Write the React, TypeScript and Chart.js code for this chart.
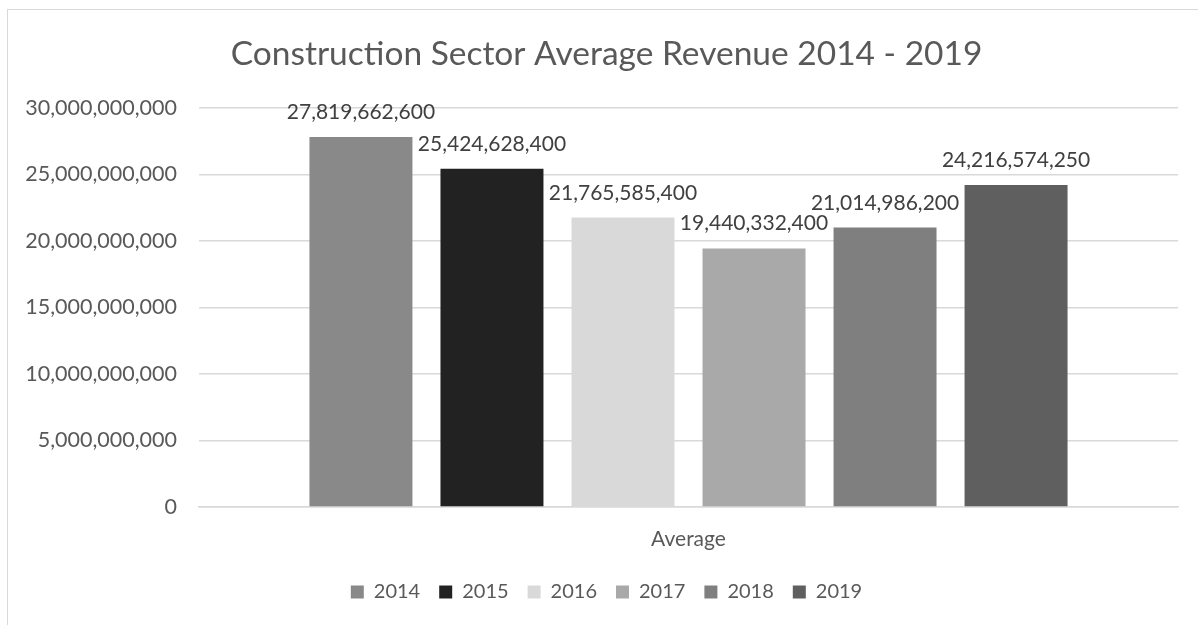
import React, { useEffect, useRef } from "react";
import { Chart, registerables } from "chart.js";

Chart.register(...registerables);

const categories = ["Average"];
const years = ["2014", "2015", "2016", "2017", "2018", "2019"];
const averageRevenue = [
  27819662600, 25424628400, 21765585400, 19440332400, 21014986200, 24216574250,
];
const barColors = ["#898989", "#222222", "#d9d9d9", "#a9a9a9", "#7f7f7f", "#5f5f5f"];
const yMin = 0;
const yMax = 30000000000;
const yStep = 5000000000;
const titleText = "Construction Sector Average Revenue 2014 - 2019";

const FONT = "Lato";
const TEXT = "#595959";
const LABEL = "#404040";
const GRID = "#d9d9d9";

const fmt = (v: number) => Number(v).toLocaleString("en-US");

const valueLabels = {
  id: "valueLabels",
  afterDatasetsDraw(chart: any) {
    const ctx = chart.ctx;
    ctx.save();
    ctx.font = `21px ${FONT}`;
    ctx.fillStyle = LABEL;
    ctx.textAlign = "center";
    ctx.textBaseline = "alphabetic";
    chart.data.datasets.forEach((ds: any, i: number) => {
      const meta = chart.getDatasetMeta(i);
      meta.data.forEach((el: any, j: number) => {
        ctx.fillText(fmt(ds.data[j]), el.x, el.y - 18);
      });
    });
    ctx.restore();
  },
};

export default function App() {
  const ref = useRef<HTMLCanvasElement | null>(null);

  useEffect(() => {
    if (!ref.current) return;
    const chart = new Chart(ref.current, {
      type: "bar",
      data: {
        labels: categories,
        datasets: years.map((y, i) => ({
          label: y,
          data: [averageRevenue[i]],
          backgroundColor: barColors[i],
          borderWidth: 0,
          categoryPercentage: 0.803,
          barPercentage: 0.786,
        })),
      },
      options: {
        responsive: false,
        animation: false,
        layout: { padding: { left: 27, right: 59, top: 0, bottom: 0 } },
        plugins: {
          title: {
            display: true,
            text: titleText,
            color: TEXT,
            font: { family: FONT, size: 33.5, weight: "normal", lineHeight: 1.2 },
            padding: { top: 24, bottom: 33.8 },
          },
          legend: {
            position: "bottom",
            labels: {
              boxWidth: 13,
              boxHeight: 13,
              padding: 19,
              color: TEXT,
              font: { family: FONT, size: 20 },
            },
          },
          tooltip: { enabled: false },
        },
        scales: {
          x: {
            grid: { display: false },
            border: { display: true, color: GRID, width: 1.5 },
            ticks: { color: TEXT, font: { family: FONT, size: 21 }, padding: 12 },
            afterFit: (scale: any) => {
              scale.height = 56;
            },
          },
          y: {
            min: yMin,
            max: yMax,
            grid: { color: GRID, lineWidth: 1.5, drawTicks: false },
            border: { display: false },
            ticks: {
              stepSize: yStep,
              color: TEXT,
              padding: 22,
              font: { family: FONT, size: 21.5 },
              callback: (v: any) => fmt(v),
            },
            afterFit: (scale: any) => {
              scale.width = 164;
              // let the tick labels extend into the left padding without clipping
              scale._computeLabelArea = () => undefined;
            },
          },
        },
      },
      plugins: [valueLabels],
    });
    return () => chart.destroy();
  }, []);

  return (
    <div
      style={{
        position: "fixed",
        left: 7,
        top: 9,
        right: 0,
        bottom: 0,
        overflow: "hidden",
        borderLeft: "1px solid #d9d9d9",
        borderTop: "1px solid #d9d9d9",
        background: "#fff",
      }}
    >
      <canvas ref={ref} width={1229} height={602} style={{ display: "block" }} />
    </div>
  );
}
